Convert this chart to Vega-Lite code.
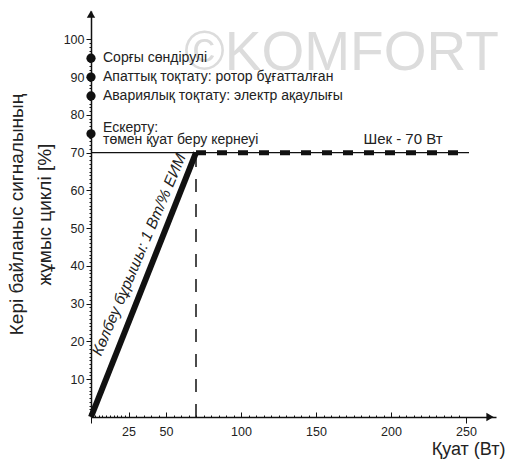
{
  "$schema": "https://vega.github.io/schema/vega-lite/v6.json",
  "width": 405,
  "height": 406,
  "autosize": {"type": "none"},
  "padding": {"left": 91, "top": 11, "right": 13, "bottom": 43},
  "background": "white",
  "config": {
    "view": {"stroke": null},
    "font": "Liberation Sans",
    "text": {"font": "Liberation Sans", "color": "#222"}
  },
  "datasets": {
    "wm": [{"x": 167, "y": 96.5, "label": "©KOMFORT"}],
    "h70": [{"x": 0, "y": 70}, {"x": 252, "y": 70}],
    "vdash": [{"x": 70, "y": 0, "y2": 70}],
    "limit": [{"x": 70, "y": 70}, {"x": 252, "y": 70}],
    "slope": [{"x": 0, "y": 0}, {"x": 70, "y": 70}],
    "states": [
      {"x": 0, "y": 95, "label": "Сорғы сөндірулі"},
      {"x": 0, "y": 90, "label": "Апаттық тоқтату: ротор бұғатталған"},
      {"x": 0, "y": 85, "label": "Авариялық тоқтату: электр ақаулығы"}
    ],
    "warn": [{"x": 0, "y": 75, "label": "Ескерту:\nтөмен қуат беру кернеуі"}],
    "slopeNote": [{"x": 32, "y": 43, "label": "Көлбеу бұрышы: 1 Вт/% ЕИМ"}],
    "limitNote": [{"x": 208, "y": 73.5, "label": "Шек - 70 Вт"}],
    "arrowUp": [{"x": 0, "y": 106.7}],
    "arrowRight": [{"x": 266, "y": 0}]
  },
  "encoding": {
    "x": {
      "field": "x",
      "type": "quantitative",
      "scale": {"domain": [0, 270], "nice": false, "zero": false},
      "axis": {
        "values": [0, 2.5, 5, 7.5, 10, 12.5, 15, 17.5, 20, 22.5, 25, 30, 35, 40, 45, 50, 55, 60, 65, 70, 75, 80, 85, 90, 95, 100, 105, 110, 115, 120, 125, 130, 135, 140, 145, 150, 155, 160, 165, 170, 175, 180, 185, 190, 195, 200, 205, 210, 215, 220, 225, 230, 235, 240, 245, 250],
        "labelExpr": "indexof([25,50,100,150,200,250], datum.value) >= 0 ? datum.label : ''",
        "labelOverlap": false,
        "labelFlush": false,
        "grid": false,
        "tickSize": {"condition": [{"test": "datum.value == 0 || datum.value == 250", "value": 6}, {"test": "indexof([25,50,100,150,200], datum.value) >= 0", "value": -5}], "value": -2},
        "labelPadding": {"condition": [{"test": "datum.value == 0 || datum.value == 250", "value": 2.5}, {"test": "indexof([25,50,100,150,200], datum.value) >= 0", "value": 13.5}], "value": 10.5},
        "tickColor": "#111",
        "domainColor": "#111",
        "domainWidth": 1.5,
        "labelFont": "Liberation Sans",
        "labelFontSize": 12.5,
        "labelColor": "#222",
        "title": "Қуат (Вт)",
        "titleFont": "Liberation Sans",
        "titleFontSize": 18,
        "titleFontWeight": "normal",
        "titleColor": "#222",
        "titleAnchor": "end",
        "titleAlign": "right",
        "titleBaseline": "middle",
        "titleX": 414,
        "titleY": 32
      }
    },
    "y": {
      "field": "y",
      "type": "quantitative",
      "scale": {"domain": [0, 107.5], "nice": false, "zero": false},
      "axis": {
        "tickCount": 100,
        "labelExpr": "(datum.value % 10 == 0 && datum.value > 0 && datum.value <= 100) ? datum.label : ''",
        "labelOverlap": false,
        "labelFlush": false,
        "grid": false,
        "tickSize": {"condition": {"test": "datum.value % 10 == 0", "value": 5}, "value": 2},
        "tickOpacity": {"condition": {"test": "datum.value > 100 || datum.value == 0", "value": 0}, "value": 1},
        "labelPadding": 2,
        "tickColor": "#111",
        "domainColor": "#111",
        "domainWidth": 1.5,
        "labelFont": "Liberation Sans",
        "labelFontSize": 12.5,
        "labelColor": "#222",
        "title": ["Кері байланыс сигналының", "жұмыс циклі [%]"],
        "titleFont": "Liberation Sans",
        "titleFontSize": 19,
        "titleFontWeight": "normal",
        "titleColor": "#222",
        "titleLineHeight": 28,
        "titlePadding": 9
      }
    }
  },
  "layer": [
    {
      "data": {"name": "wm"},
      "mark": {"type": "text", "fontSize": 55, "font": "Liberation Sans", "color": "#dcdcdc", "align": "center", "baseline": "middle"},
      "encoding": {"text": {"field": "label"}}
    },
    {
      "data": {"name": "h70"},
      "mark": {"type": "line", "color": "#111", "strokeWidth": 1.2},
      "encoding": {}
    },
    {
      "data": {"name": "vdash"},
      "mark": {"type": "rule", "color": "#111", "strokeWidth": 1.5, "strokeDash": [13, 12]},
      "encoding": {"y2": {"field": "y2"}}
    },
    {
      "data": {"name": "limit"},
      "mark": {"type": "line", "color": "#111", "strokeWidth": 5, "strokeDash": [10, 11]},
      "encoding": {}
    },
    {
      "data": {"name": "slope"},
      "mark": {"type": "line", "color": "#111", "strokeWidth": 6},
      "encoding": {}
    },
    {
      "data": {"name": "states"},
      "mark": {"type": "point", "filled": true, "color": "#111", "size": 85, "opacity": 1},
      "encoding": {}
    },
    {
      "data": {"name": "warn"},
      "mark": {"type": "point", "filled": true, "color": "#111", "size": 85, "opacity": 1},
      "encoding": {}
    },
    {
      "data": {"name": "states"},
      "mark": {"type": "text", "align": "left", "baseline": "middle", "dx": 12, "fontSize": 14},
      "encoding": {"text": {"field": "label"}}
    },
    {
      "data": {"name": "warn"},
      "mark": {"type": "text", "align": "left", "baseline": "middle", "dx": 12, "dy": -6, "fontSize": 14, "lineBreak": "\n", "lineHeight": 12.5},
      "encoding": {"text": {"field": "label"}}
    },
    {
      "data": {"name": "slopeNote"},
      "mark": {"type": "text", "align": "center", "baseline": "middle", "angle": -67, "fontSize": 15.5, "fontStyle": "italic"},
      "encoding": {"text": {"field": "label"}}
    },
    {
      "data": {"name": "limitNote"},
      "mark": {"type": "text", "align": "center", "baseline": "middle", "fontSize": 15},
      "encoding": {"text": {"field": "label"}}
    },
    {
      "data": {"name": "arrowUp"},
      "mark": {"type": "point", "shape": "triangle-up", "filled": true, "color": "#111", "size": 70, "opacity": 1},
      "encoding": {}
    },
    {
      "data": {"name": "arrowRight"},
      "mark": {"type": "point", "shape": "triangle-right", "filled": true, "color": "#111", "size": 70, "opacity": 1},
      "encoding": {}
    }
  ]
}
